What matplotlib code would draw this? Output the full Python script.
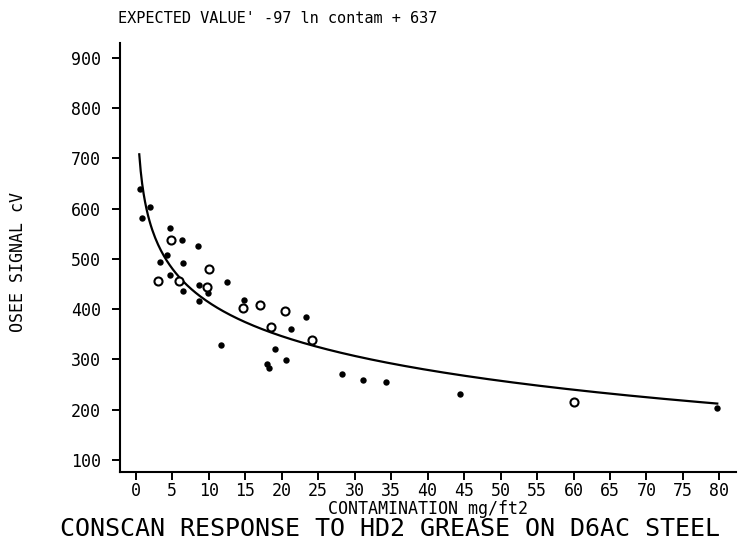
import numpy as np
import matplotlib.pyplot as plt

# measured points (filled dots)
x_filled = [0.6, 1.9, 0.8, 4.7, 6.4, 8.5, 4.3, 3.3, 6.5, 4.7, 8.6, 9.9, 6.5,
            12.5, 14.8, 8.7, 23.4, 21.3, 11.7, 19.1, 20.6, 18.0, 18.2, 28.3,
            31.1, 34.3, 44.5, 79.7]
y_filled = [639, 604, 582, 562, 538, 525, 507, 493, 491, 468, 449, 433, 436,
            454, 418, 416, 384, 361, 329, 321, 299, 291, 283, 272,
            259, 255, 232, 204]

# measured points (open circles)
x_open = [4.8, 10.1, 3.1, 5.9, 9.75, 14.7, 17.0, 20.5, 18.5, 24.2, 60.1]
y_open = [538, 481, 456, 457, 444, 403, 408, 397, 365, 338, 215]

# expected value: -97 ln contam + 637
coef_a = -97
coef_b = 637
x_fit = np.linspace(0.48, 79.7, 400)
y_fit = coef_a * np.log(x_fit) + coef_b

x_ticks = list(range(0, 85, 5))
y_ticks = list(range(100, 1000, 100))

plt.rcParams['font.family'] = ['DejaVu Sans Mono', 'DejaVu Sans']

fig = plt.figure(figsize=(7.38, 5.42), dpi=100)
ax = fig.add_axes([0.1626, 0.129, 0.835, 0.792])

ax.plot(x_fit, y_fit, color='black', lw=1.6)
ax.plot(x_filled, y_filled, 'o', color='black', ms=4.6, mew=0)
ax.plot(x_open, y_open, 'o', mfc='white', mec='black', ms=5.8, mew=1.5)

ax.set_xlim(-2.16, 82.3)
ax.set_ylim(76, 930)
ax.set_xticks(x_ticks)
ax.set_yticks(y_ticks)

for side in ['top', 'right']:
    ax.spines[side].set_visible(False)
for side in ['left', 'bottom']:
    ax.spines[side].set_linewidth(1.5)
ax.tick_params(axis='both', direction='out', length=5.5, width=1.4,
               labelsize=12)
ax.tick_params(axis='x', pad=2)
ax.tick_params(axis='y', pad=8)

ax.set_xlabel('CONTAMINATION mg/ft2', fontsize=12, labelpad=0)

fig.text(18 / 738, 1 - 262 / 542, 'OSEE SIGNAL cV', fontsize=12,
         rotation=90, ha='center', va='center')
fig.text(0.16, 0.965, "EXPECTED VALUE' -97 ln contam + 637", fontsize=11,
         ha='left', va='center')
fig.text(0.529, 0.024, 'CONSCAN RESPONSE TO HD2 GREASE ON D6AC STEEL',
         fontsize=18, ha='center', va='center')

plt.savefig('out.png', dpi=100)
